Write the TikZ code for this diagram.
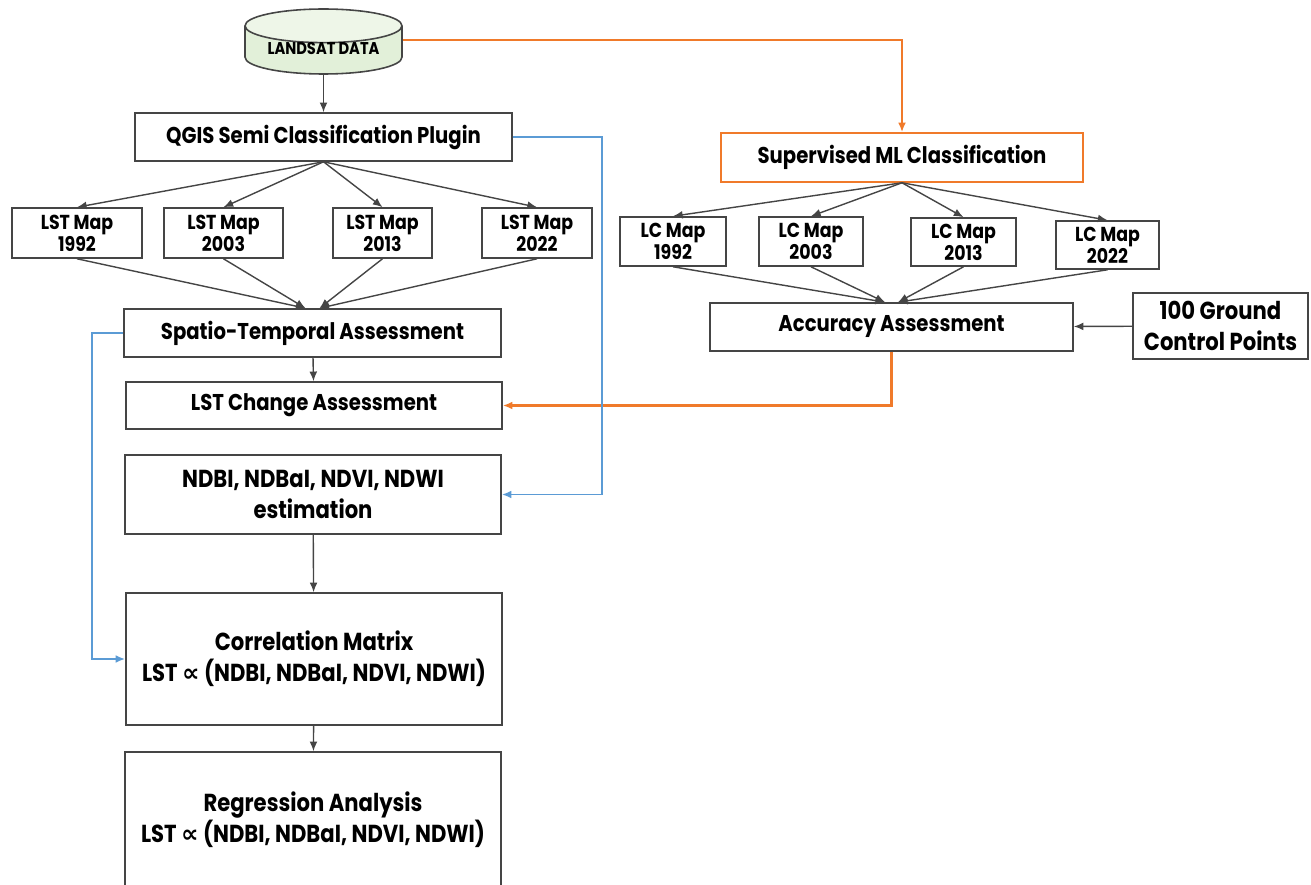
\documentclass[tikz,border=0pt]{standalone}
\usepackage{fontspec}
\setmainfont{Poppins}[FakeStretch=0.86]
\newfontfamily\symfont{DejaVu Sans}
\usetikzlibrary{arrows, arrows.meta, shapes.geometric}

\definecolor{orng}{HTML}{F07A2A}
\definecolor{lblue}{HTML}{5B9BD5}
\definecolor{cylfill}{HTML}{E2F0D9}
\definecolor{edge}{HTML}{454545}

\begin{document}
\begin{tikzpicture}[>={Latex[length=5.5pt,width=4.5pt]}, x=0.02cm, y=-0.02cm,
  box/.style={draw=edge, line width=0.9pt, inner sep=0pt, align=center,
    font=\bfseries\fontsize{13}{17}\selectfont},
  bigbox/.style={box, font=\bfseries\fontsize{14}{17.5}\selectfont},
  mapbox/.style={box, minimum height=1cm, font=\bfseries\fontsize{11.5}{12.5}\selectfont},
  arr/.style={->, draw=edge, line width=0.8pt},
  orarr/.style={->, draw=orng, line width=1.2pt},
  blarr/.style={->, draw=lblue, line width=1.1pt}]
\useasboundingbox (0,0) rectangle (1311,885);

% data source
\node at (323.5,41.5) (LD) [shape=cylinder, shape border rotate=90, aspect=0.3,
  anchor=shape center, draw=edge, line width=0.9pt, cylinder uses custom fill,
  cylinder body fill=cylfill, cylinder end fill=cylfill!60!white,
  minimum width=3.14cm, minimum height=1.3cm, inner sep=0pt,
  font=\bfseries\fontsize{9.7}{11}\selectfont]
  {\raisebox{-2.6pt}[0pt][0pt]{LANDSAT DATA}};

% left branch
\node at (323.5,137) (QG) [box, minimum width=7.54cm, minimum height=0.96cm] {QGIS Semi Classification Plugin};
\node at (77,233) (M1) [mapbox, minimum width=2.6cm] {LST Map\\1992};
\node at (223.5,233) (M2) [mapbox, minimum width=2.38cm] {LST Map\\2003};
\node at (382.5,233) (M3) [mapbox, minimum width=1.98cm] {LST Map\\2013};
\node at (537,233) (M4) [mapbox, minimum width=2.2cm] {LST Map\\2022};
\node at (312.5,333) (ST) [box, minimum width=7.54cm, minimum height=0.96cm] {Spatio-Temporal Assessment};
\node at (314,405.5) (CH) [box, minimum width=7.52cm, minimum height=0.94cm] {LST Change Assessment};
\node at (313,494.5) (IX) [bigbox, minimum width=7.52cm, minimum height=1.58cm] {NDBI, NDBaI, NDVI, NDWI\\estimation};
\node at (314,659) (CM) [bigbox, minimum width=7.52cm, minimum height=2.64cm] {Correlation Matrix\\LST {\symfont ∝} (NDBI, NDBaI, NDVI, NDWI)};
\node at (313,820) (RA) [bigbox, minimum width=7.52cm, minimum height=2.72cm] {Regression Analysis\\LST {\symfont ∝} (NDBI, NDBaI, NDVI, NDWI)};

% right branch
\node at (902,157.5) (SV) [box, draw=orng, minimum width=7.24cm, minimum height=0.98cm] {Supervised ML Classification};
\node at (673,241.5) (C1) [mapbox, minimum width=2.12cm, minimum height=0.98cm] {LC Map\\1992};
\node at (811,241.5) (C2) [mapbox, minimum width=2.08cm, minimum height=0.98cm] {LC Map\\2003};
\node at (963.5,242) (C3) [mapbox, minimum width=2.1cm, minimum height=0.96cm] {LC Map\\2013};
\node at (1107.5,245) (C4) [mapbox, minimum width=2.06cm, minimum height=0.96cm] {LC Map\\2022};
\node at (891.5,327) (AA) [box, minimum width=7.26cm, minimum height=0.96cm] {Accuracy Assessment};
\node at (1220.5,326) (GC) [bigbox, minimum width=3.5cm, minimum height=1.32cm] {100 Ground\\Control Points};

\draw [arr] (LD) to (QG);
\foreach \n in {M1,M2,M3,M4}
  \draw [arr] (QG.south) to (\n.north);
\draw [arr] (M1.south) to ([xshift=-4pt]ST.north);
\draw [arr] (M2.south) to ([xshift=-4pt]ST.north);
\draw [arr] (M3.south) to ([xshift=4pt]ST.north);
\draw [arr] (M4.south) to ([xshift=4pt]ST.north);
\draw [arr] (ST) to (CH);
\draw [arr] (IX) to (CM);
\draw [arr] (CM) to (RA);

\foreach \n in {C1,C2,C3,C4}
  \draw [arr] (SV.south) to (\n.north);
\draw [arr] (C1.south) to ([xshift=-3.7pt]AA.north);
\draw [arr] (C2.south) to ([xshift=-3.7pt]AA.north);
\draw [arr] (C3.south) to ([xshift=3.7pt]AA.north);
\draw [arr] (C4.south) to ([xshift=3.7pt]AA.north);
\draw [arr] (GC) to (AA);

% coloured feedback lines
\draw [orarr] ([yshift=5.8pt]LD.east) -| (SV.north);
\draw [orarr] (AA.south) |- (CH.east);
\draw [blarr] (QG.east) -- ++(89,0) |- (IX.east);
\draw [blarr] (ST.west) -- ++(-31,0) |- (CM.west);
\end{tikzpicture}
\end{document}
